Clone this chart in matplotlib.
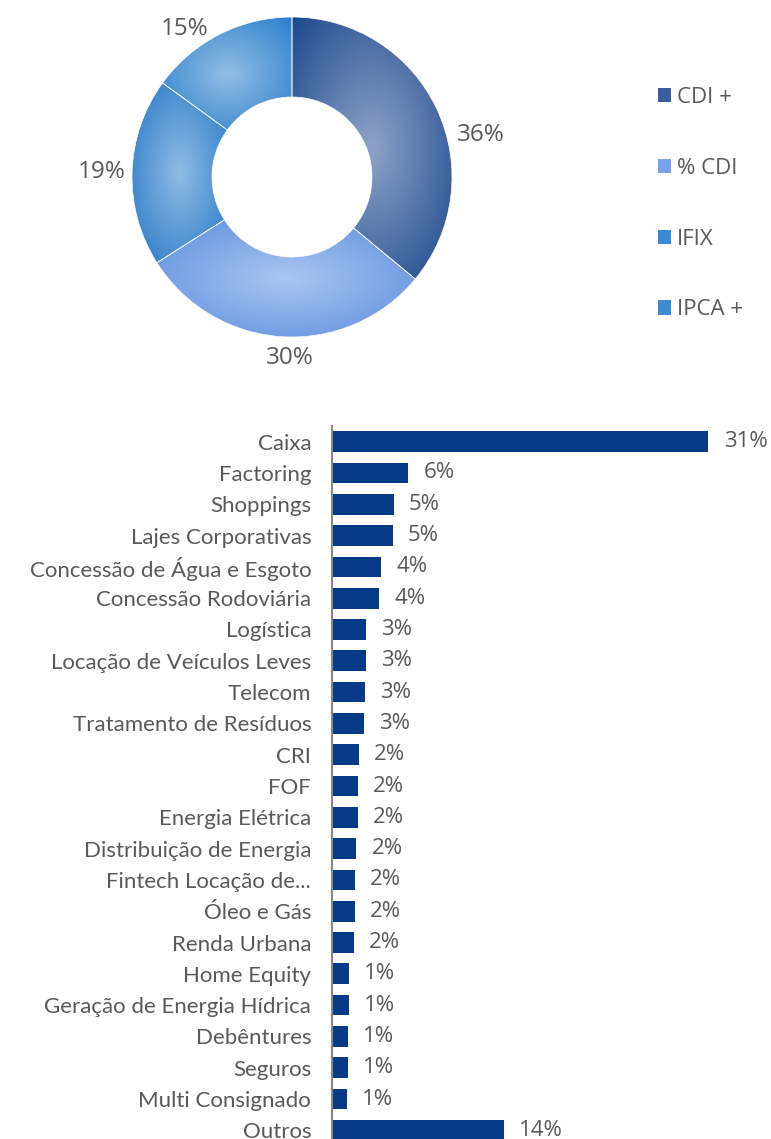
import numpy as np
import matplotlib
matplotlib.use('Agg')
import matplotlib.pyplot as plt
from matplotlib.colors import to_rgb
from matplotlib.patches import Patch

plt.rcParams['font.family'] = ['Lato', 'DejaVu Sans']
fonte_num = ['Open Sans', 'DejaVu Sans']

# dados - rosca (indexador)
idx_labels = ['CDI +', '% CDI', 'IFIX', 'IPCA +']
idx_values = [36, 30, 19, 15]

# dados - barras (setor)
setores = ['Caixa', 'Factoring', 'Shoppings', 'Lajes Corporativas',
           'Concessão de Água e Esgoto', 'Concessão Rodoviária', 'Logística',
           'Locação de Veículos Leves', 'Telecom', 'Tratamento de Resíduos',
           'CRI', 'FOF', 'Energia Elétrica', 'Distribuição de Energia',
           'Fintech Locação de...', 'Óleo e Gás', 'Renda Urbana', 'Home Equity',
           'Geração de Energia Hídrica', 'Debêntures', 'Seguros',
           'Multi Consignado', 'Outros']
pct = [31.1, 6.3, 5.1, 5.0, 4.05, 3.9, 2.8, 2.8, 2.7, 2.65, 2.2, 2.15, 2.15,
       2.0, 1.9, 1.9, 1.8, 1.4, 1.4, 1.3, 1.3, 1.2, 14.2]

cinza = '#595959'
azul_barra = '#063a87'

# cores do gradiente (centro, borda) e cor da legenda
grad_centro = ['#8fa3c8', '#abc6f1', '#8fbce4', '#92bee5']
grad_borda = ['#1c488d', '#5a8ddf', '#2476c7', '#297ecc']
cor_leg = ['#3a5e9c', '#78a3ea', '#3a8ad3', '#3d8cd4']

W, H = 771, 1139
fig = plt.figure(figsize=(W / 100, H / 100), dpi=100)

# ---------- rosca ----------
ax1 = fig.add_axes([112 / W, 1 - 357 / H, 360 / W, 360 / H])
wedges, _ = ax1.pie(idx_values, startangle=90, counterclock=False,
                    colors=cor_leg, radius=1,
                    wedgeprops=dict(width=0.5, edgecolor='white', linewidth=0.5))

for i, w in enumerate(wedges):
    bb = w.get_path().get_extents()
    xs = np.linspace(bb.x0, bb.x1, 200)
    ys = np.linspace(bb.y1, bb.y0, 200)
    X, Y = np.meshgrid(xs, ys)
    cx, cy = (bb.x0 + bb.x1) / 2, (bb.y0 + bb.y1) / 2
    hw, hh = (bb.x1 - bb.x0) / 2, (bb.y1 - bb.y0) / 2
    t = np.sqrt(((X - cx) / hw) ** 2 + ((Y - cy) / hh) ** 2) / np.sqrt(2)
    t = np.clip(t, 0, 1)[..., None]
    c0 = np.array(to_rgb(grad_centro[i]))
    c1 = np.array(to_rgb(grad_borda[i]))
    img = c0 * (1 - t) + c1 * t
    im = ax1.imshow(img, extent=(bb.x0, bb.x1, bb.y0, bb.y1), zorder=2,
                    interpolation='bilinear')
    im.set_clip_path(w)
    w.set_zorder(3)
    w.set_facecolor('none')
    w.set_edgecolor('white')

# rótulos em volta da rosca
ang_rot = [12.6, -90.6, 178.5, 126.0]
dist_rot = [1.21, 1.13, 1.19, 1.14]
for v, a, d in zip(idx_values, ang_rot, dist_rot):
    ax1.text(d * np.cos(np.radians(a)), d * np.sin(np.radians(a)), f'{v}%',
             ha='center', va='center', fontsize=17.5, color=cinza,
             family=fonte_num)

ax1.set_xlim(-1.125, 1.125)
ax1.set_ylim(-1.125, 1.125)
ax1.set_aspect('equal')
ax1.axis('off')

# legenda
handles = [Patch(facecolor=c, edgecolor='none') for c in cor_leg]
leg = fig.legend(handles, idx_labels, loc='upper left',
                 bbox_to_anchor=(658 / W, 1 - 87 / H), frameon=False,
                 prop=dict(family=fonte_num, size=16), labelcolor=cinza,
                 handlelength=0.6, handleheight=0.6, handletextpad=0.25,
                 labelspacing=2.24, borderpad=0, borderaxespad=0)

# ---------- barras ----------
ax2 = fig.add_axes([332 / W, -7 / H, 1 - 332 / W, 720 / H])
y = np.arange(len(setores))
ax2.barh(y, pct, height=0.66, color=azul_barra)
ax2.set_ylim(len(setores) - 0.5, -0.5)
ax2.set_xlim(0, 439 / 12.1)
ax2.set_yticks(y)
ax2.set_yticklabels(setores, fontsize=16, color=cinza)
ax2.tick_params(axis='y', length=0, pad=15)
ax2.set_xticks([])
for s in ['top', 'right', 'bottom']:
    ax2.spines[s].set_visible(False)
ax2.spines['left'].set_color('#868686')
ax2.spines['left'].set_linewidth(1.5)

for yi, v in zip(y, pct):
    ax2.annotate(f'{v:.0f}%', (v, yi), xytext=(11, 0),
                 textcoords='offset points', ha='left', va='center',
                 fontsize=16, color=cinza, family=fonte_num)

fig.savefig('out.png', dpi=100)
